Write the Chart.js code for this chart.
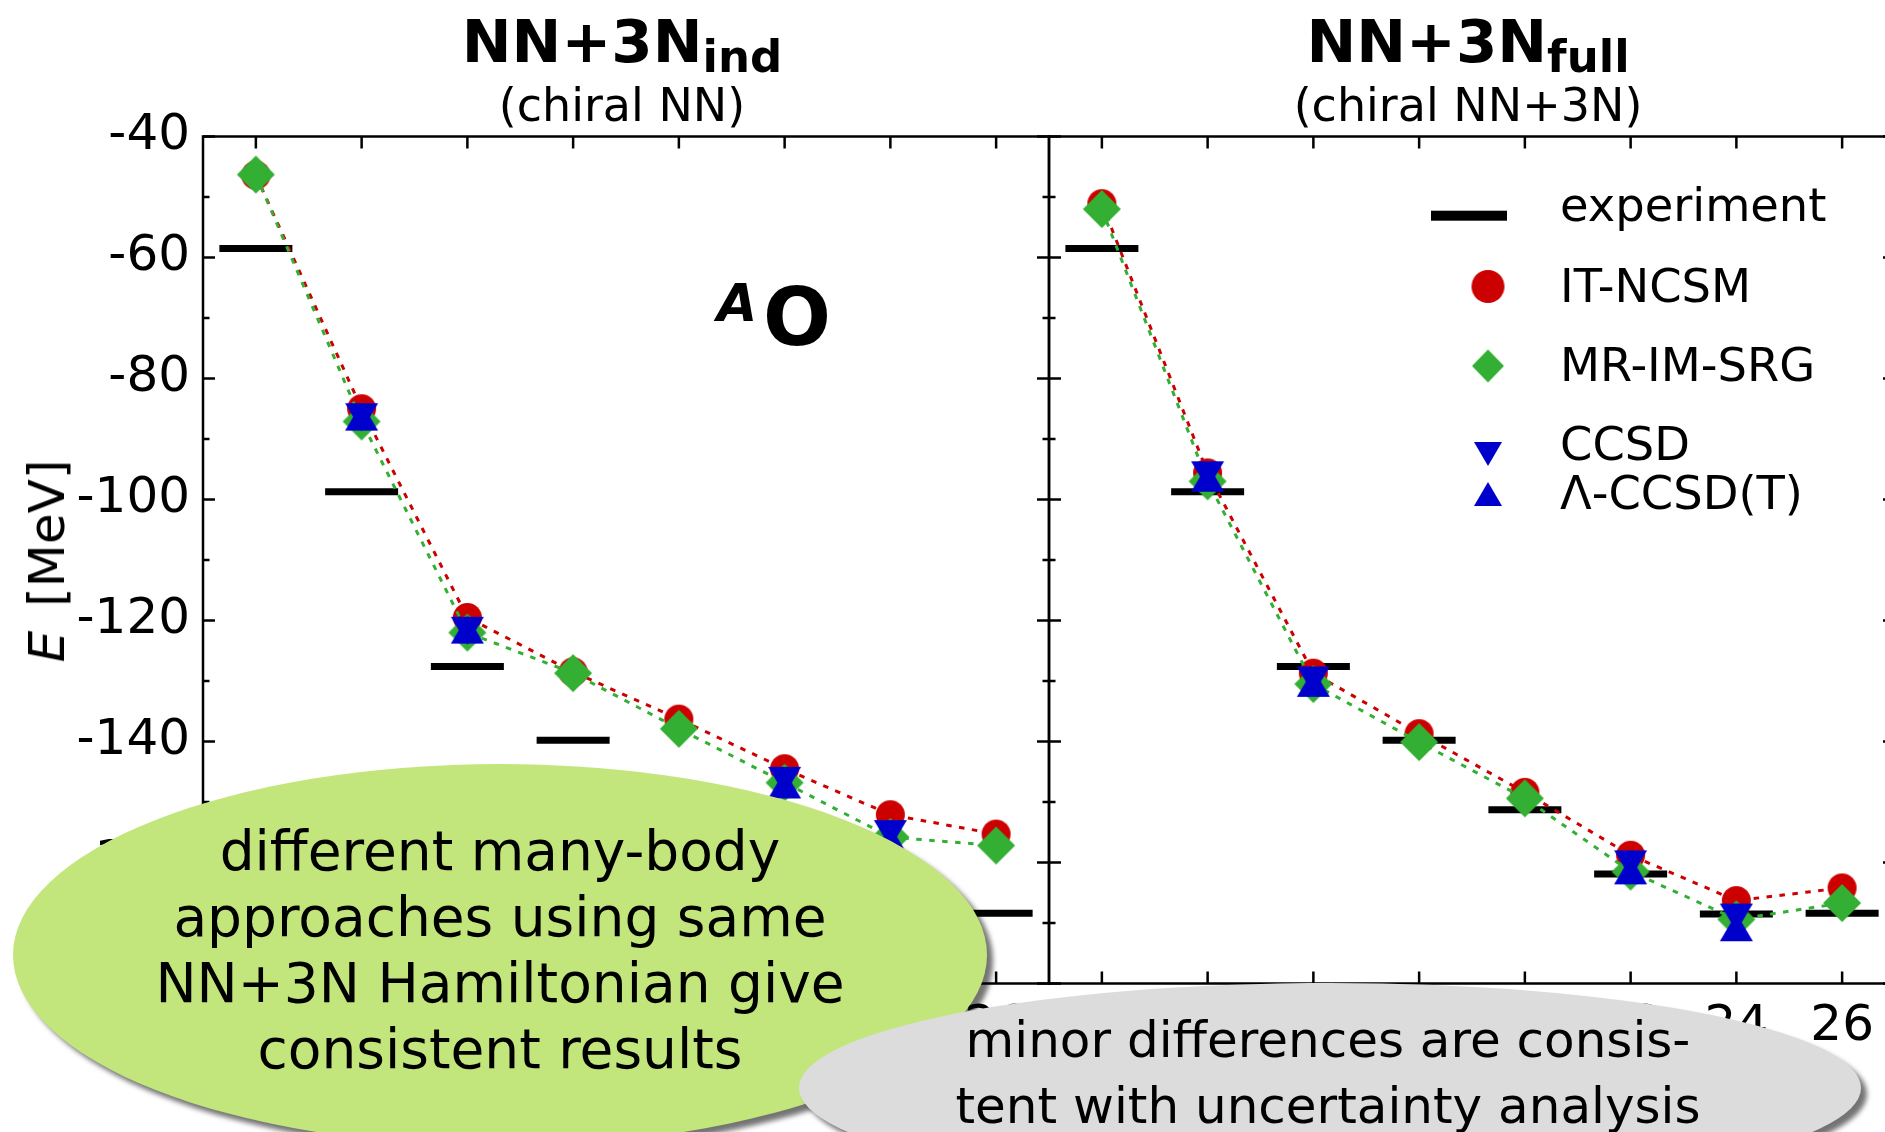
<!DOCTYPE html>
<html>
<head>
<meta charset="utf-8">
<title>Oxygen isotopes ground-state energies</title>
<script src="https://cdn.jsdelivr.net/npm/chart.js@4.4.1/dist/chart.umd.min.js"></script>
<style>
  html, body { margin: 0; padding: 0; overflow: hidden; background: #fff; }
  #page { position: relative; width: 1885px; height: 1132px; overflow: hidden; background: #fff;
          font-family: 'DejaVu Sans', sans-serif; color: #000; }
  canvas { position: absolute; top: 0; }
  .t { position: absolute; white-space: nowrap; line-height: 1; }
  .title { font-weight: bold; font-size: 59.5px; transform: translateX(-50%); }
  .title .sub { font-size: 45px; position: relative; top: 9.5px; }
  .subtitle { font-size: 46px; transform: translateX(-50%); }
  .leg { font-size: 46.4px; left: 1560px; }
  .bubble { position: absolute; border-radius: 50%; }
  .bubble-text { position: absolute; white-space: nowrap; text-align: center; transform: translateX(-50%); }
</style>
</head>
<body>
<div id="page">
  <canvas id="indChart" width="1100" height="1132" style="left:0px"></canvas>
  <canvas id="fullChart" width="905" height="1132" style="left:1000px"></canvas>

  <div class="t title" style="left:622px; top:12.2px;">NN+3N<span class="sub">ind</span></div>
  <div class="t subtitle" style="left:622px; top:82.1px;">(chiral NN)</div>
  <div class="t title" style="left:1468px; top:12.2px;">NN+3N<span class="sub">full</span></div>
  <div class="t subtitle" style="left:1468px; top:82.1px;">(chiral NN+3N)</div>

  <div class="t" style="left:717px; top:277px; font-size:52px; font-weight:bold; font-style:italic;">A</div>
  <div class="t" style="left:763px; top:278.3px; font-size:80px; font-weight:bold;">O</div>

  <div class="t" style="left:47px; top:561px; font-size:50px; transform:translate(-50%,-50%) rotate(-90deg);"><i>E</i><span style="margin-left:24px">[MeV]</span></div>

  <div class="t leg" style="top:182.1px;">experiment</div>
  <div class="t leg" style="top:262.5px;">IT-NCSM</div>
  <div class="t leg" style="top:342.1px;">MR-IM-SRG</div>
  <div class="t leg" style="top:421.4px;">CCSD</div>
  <div class="t leg" style="top:469.7px;">Λ-CCSD(T)</div>

  <div class="bubble" style="left:13px; top:764px; width:974px; height:382px; background:#c2e67b; box-shadow:6px 6px 5px rgba(0,0,0,0.55);"></div>
  <div class="bubble-text" style="left:500px; top:818px; font-size:55px; line-height:66px;">different many-body<br>approaches using same<br>NN+3N Hamiltonian give<br>consistent results</div>

  <div class="bubble" style="left:799px; top:983px; width:1062px; height:210px; background:#dcdcdc; box-shadow:6px 6px 5px rgba(0,0,0,0.55);"></div>
  <div class="bubble-text" style="left:1328px; top:1006.7px; font-size:50px; line-height:66px;">minor differences are consis-<br>tent with uncertainty analysis</div>
</div>

<script>
// Oxygen isotope chain, mass number A
const massNumbers = [12, 14, 16, 18, 20, 22, 24, 26];
// isotopes with coupled-cluster results
const ccMassNumbers = [14, 16, 22, 24];

// ground-state energies E [MeV]
const expEnergy = [-58.5, -98.7, -127.6, -139.8, -151.3, -161.9, -168.5, -168.4];

// NN+3N-induced Hamiltonian (chiral NN)
const indItNcsm = [-46.4, -85.0, -119.5, -128.5, -136.3, -144.5, -152.1, -155.3];
const indMrImSrg = [-46.3, -87.1, -122.0, -128.7, -137.9, -146.8, -155.8, -157.2];
const indCcsd = [-86.4, -121.7, -146.5, -155.3];
const indLambdaCcsdT = [-86.3, -121.5, -147.1, -156.2];

// NN+3N-full Hamiltonian (chiral NN+3N)
const fullItNcsm = [-51.1, -95.6, -128.7, -138.7, -148.4, -158.8, -166.3, -164.2];
const fullMrImSrg = [-52.0, -97.0, -130.5, -140.1, -149.4, -161.5, -169.4, -166.7];
const fullCcsd = [-96.0, -129.9, -160.3, -169.1];
const fullLambdaCcsdT = [-96.4, -130.3, -161.3, -170.7];

// axis ticks
const xTicks = [12, 14, 16, 18, 20, 22, 24, 26];
const yTicks = [-180, -160, -140, -120, -100, -80, -60, -40];
const yMinorTicks = [-170, -150, -130, -110, -90, -70, -50];

const RED = '#cc0000';
const GREEN = '#33b033';
const BLUE = '#0000cc';

// filled marker shapes, centred on their bounding box
function marker(shape, w, h, color) {
  const c = document.createElement('canvas');
  c.width = Math.ceil(w) + 2;
  c.height = Math.ceil(h) + 2;
  const g = c.getContext('2d');
  g.fillStyle = color;
  g.translate(c.width / 2, c.height / 2);
  g.beginPath();
  if (shape === 'circle') {
    g.arc(0, 0, w / 2, 0, Math.PI * 2);
  } else if (shape === 'diamond') {
    g.moveTo(0, -h / 2); g.lineTo(w / 2, 0); g.lineTo(0, h / 2); g.lineTo(-w / 2, 0);
  } else if (shape === 'down') {
    g.moveTo(-w / 2, -h / 2); g.lineTo(w / 2, -h / 2); g.lineTo(0, h / 2);
  } else {
    g.moveTo(0, -h / 2); g.lineTo(w / 2, h / 2); g.lineTo(-w / 2, h / 2);
  }
  g.closePath();
  g.fill();
  return c;
}

const marks = {
  circle: marker('circle', 29, 29, RED),
  diamond: marker('diamond', 38, 38, GREEN),
  down: marker('down', 33, 28, BLUE),
  up: marker('up', 33, 28, BLUE)
};
const legendMarks = {
  circle: marker('circle', 33, 33, RED),
  diamond: marker('diamond', 32, 33, GREEN),
  down: marker('down', 28, 24, BLUE),
  up: marker('up', 28, 24, BLUE)
};

const pts = (xs, ys) => xs.map((a, i) => ({ x: a, y: ys[i] }));
const DASH = [5.5, 7.5];

function panelDatasets(ncsm, imsrg, ccsd, lccsdt) {
  return [
    { label: 'experiment', data: pts(massNumbers, expEnergy), showLine: false,
      pointStyle: 'line', pointRadius: 36.5, pointBorderWidth: 7, pointBorderColor: '#000', order: 5 },
    { label: 'IT-NCSM', data: pts(massNumbers, ncsm), showLine: true,
      borderColor: RED, borderWidth: 3, borderDash: DASH, pointStyle: marks.circle, pointRadius: 15, order: 4 },
    { label: 'MR-IM-SRG', data: pts(massNumbers, imsrg), showLine: true,
      borderColor: GREEN, borderWidth: 3, borderDash: DASH, pointStyle: marks.diamond, pointRadius: 19, order: 3 },
    { label: 'CCSD', data: pts(ccMassNumbers, ccsd), showLine: false,
      pointStyle: marks.down, pointRadius: 16, order: 2 },
    { label: 'Λ-CCSD(T)', data: pts(ccMassNumbers, lccsdt), showLine: false,
      pointStyle: marks.up, pointRadius: 16, order: 1 }
  ];
}

// frame on all four sides with inward-pointing tick marks
const frameTicks = {
  id: 'frameTicks',
  afterDatasetsDraw(chart) {
    const { ctx, chartArea: a } = chart;
    const x = chart.scales.x, y = chart.scales.y;
    ctx.save();
    ctx.strokeStyle = '#000';
    ctx.lineWidth = 2.5;
    ctx.beginPath();
    for (const v of xTicks) {
      const px = x.getPixelForValue(v);
      ctx.moveTo(px, a.top); ctx.lineTo(px, a.top + 12);
      ctx.moveTo(px, a.bottom); ctx.lineTo(px, a.bottom - 12);
    }
    for (const v of yTicks) {
      const py = y.getPixelForValue(v);
      ctx.moveTo(a.left, py); ctx.lineTo(a.left + 12, py);
      ctx.moveTo(a.right, py); ctx.lineTo(a.right - 12, py);
    }
    for (const v of yMinorTicks) {
      const py = y.getPixelForValue(v);
      ctx.moveTo(a.left, py); ctx.lineTo(a.left + 6.5, py);
      ctx.moveTo(a.right, py); ctx.lineTo(a.right - 6.5, py);
    }
    ctx.stroke();
    ctx.strokeRect(a.left, a.top, a.right - a.left, a.bottom - a.top);
    ctx.restore();
  }
};

// legend symbols in the right panel (labels are page text)
const legendSymbols = {
  id: 'legendSymbols',
  afterDraw(chart) {
    const ctx = chart.ctx;
    const ox = 1000;
    const cx = 1488 - ox;
    ctx.save();
    ctx.fillStyle = '#000';
    ctx.fillRect(1431 - ox, 210.7, 76, 10);
    const put = (img, cy) => ctx.drawImage(img, cx - img.width / 2, cy - img.height / 2);
    put(legendMarks.circle, 286.5);
    put(legendMarks.diamond, 366);
    put(legendMarks.down, 454);
    put(legendMarks.up, 494);
    ctx.restore();
  }
};

Chart.defaults.font.family = "'DejaVu Sans', sans-serif";
Chart.defaults.color = '#000';

function makeChart(id, datasets, showYLabels, padding, extraPlugins) {
  return new Chart(document.getElementById(id), {
    type: 'scatter',
    data: { datasets },
    options: {
      responsive: false,
      animation: false,
      events: [],
      layout: { padding, autoPadding: false },
      plugins: { legend: { display: false }, tooltip: { enabled: false } },
      scales: {
        x: {
          type: 'linear', position: 'bottom', min: 11, max: 27,
          afterBuildTicks: s => { s.ticks = xTicks.map(v => ({ value: v })); },
          afterFit: s => { s.height = 148.5; },
          grid: { display: false, drawTicks: false },
          border: { display: false },
          ticks: { font: { size: 50 }, color: '#000', padding: 13.5, autoSkip: false, maxRotation: 0 }
        },
        y: {
          type: 'linear', position: 'left', min: -180, max: -40,
          afterBuildTicks: s => { s.ticks = yTicks.map(v => ({ value: v })); },
          afterFit: s => { s.width = showYLabels ? 203 : 0; },
          grid: { display: false, drawTicks: false },
          border: { display: false },
          ticks: { display: showYLabels, font: { size: 50 }, color: '#000', padding: 13 }
        }
      }
    },
    plugins: [frameTicks].concat(extraPlugins)
  });
}

makeChart('indChart', panelDatasets(indItNcsm, indMrImSrg, indCcsd, indLambdaCcsdT),
          true, { left: 0, right: 51, top: 136.5, bottom: 0 }, []);
makeChart('fullChart', panelDatasets(fullItNcsm, fullMrImSrg, fullCcsd, fullLambdaCcsdT),
          false, { left: 49, right: 10, top: 136.5, bottom: 0 }, [legendSymbols]);
</script>
</body>
</html>
